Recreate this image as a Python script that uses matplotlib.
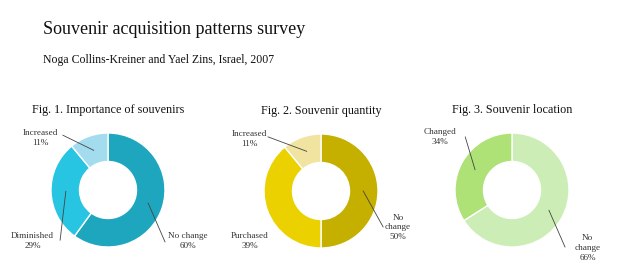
import matplotlib
matplotlib.use("Agg")
import matplotlib.pyplot as plt
import numpy as np

plt.rcParams['font.family'] = ['Liberation Serif', 'DejaVu Serif']

title = 'Souvenir acquisition patterns survey'
subtitle = 'Noga Collins-Kreiner and Yael Zins, Israel, 2007'

titles = ['Fig. 1. Importance of souvenirs', 'Fig. 2. Souvenir quantity', 'Fig. 3. Souvenir location']
labels1 = ['No change', 'Diminished', 'Increased']
values1 = [60, 29, 11]
labels2 = ['No\nchange', 'Purchased', 'Increased']
values2 = [50, 39, 11]
labels3 = ['No\nchange', 'Changed']
values3 = [66, 34]

colors1 = ['#1fa6bf', '#28c5e2', '#a3dcee']
colors2 = ['#c5b000', '#ebd100', '#f1e3a0']
colors3 = ['#cdedb6', '#aee176']

# label placement (text pos, line start or None) in axes units, radius = 1
place1 = [((1.40, -0.89), (1.0, -0.91)),
          ((-1.32, -0.89), (-0.84, -0.88)),
          ((-1.18, 0.91), (-0.79, 0.96))]
place2 = [((1.35, -0.64), (1.09, -0.63)),
          ((-1.25, -0.88), None),
          ((-1.25, 0.91), (-0.93, 0.95))]
place3 = [((1.33, -1.02), (0.93, -1.0)),
          ((-1.26, 0.93), (-0.82, 0.93))]

W, H = 624, 279
fig = plt.figure(figsize=(W / 100, H / 100), dpi=100)

fig.text(43 / W, 1 - 30 / H, title, fontsize=13, ha='left', va='center', color='#111111')
fig.text(43 / W, 1 - 60 / H, subtitle, fontsize=8.5, ha='left', va='center', color='#111111')

centers = [(108, 190), (321, 191), (512, 190)]
R = 57
charts = [(labels1, values1, colors1, place1),
          (labels2, values2, colors2, place2),
          (labels3, values3, colors3, place3)]

for (cx, cy), t, (labs, vals, cols, place) in zip(centers, titles, charts):
    ax = fig.add_axes([(cx - R) / W, 1 - (cy + R) / H, 2 * R / W, 2 * R / H])
    wedges, _ = ax.pie(vals, colors=cols, startangle=90, counterclock=False,
                       radius=1, wedgeprops=dict(width=0.5, edgecolor='white', linewidth=1))
    ax.set_xlim(-1, 1)
    ax.set_ylim(-1, 1)
    ax.set_aspect('equal')
    ax.axis('off')
    ax.text(0, 1.40, t, fontsize=8.7, ha='center', va='center', color='#111111')
    for w, lab, v, (tp, lp) in zip(wedges, labs, vals, place):
        mid = np.deg2rad((w.theta1 + w.theta2) / 2)
        end = (0.74 * np.cos(mid), 0.74 * np.sin(mid))
        ax.text(tp[0], tp[1], '%s\n%d%%' % (lab, v), fontsize=6.6, ha='center',
                va='center', color='#333333', linespacing=1.3)
        if lp is not None:
            ax.plot([lp[0], end[0]], [lp[1], end[1]], color='#444444', lw=0.6, clip_on=False)

fig.savefig('out.png', dpi=100)
